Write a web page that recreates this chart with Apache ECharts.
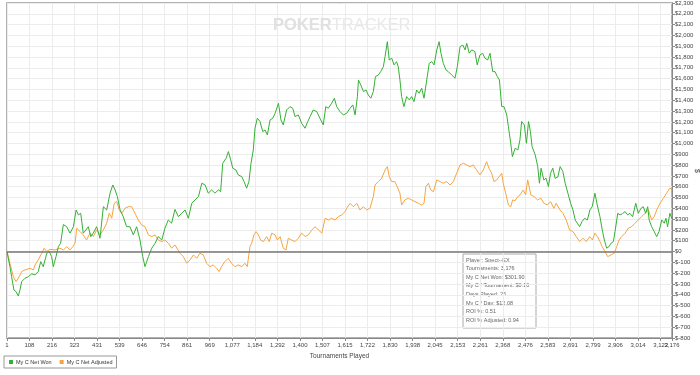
<!DOCTYPE html>
<html><head><meta charset="utf-8">
<script src="https://cdn.jsdelivr.net/npm/echarts@6/dist/echarts.min.js"></script>
<style>html,body{margin:0;padding:0;background:#fff}#c{width:700px;height:375px}</style>
</head><body><div id="c"></div>
<script>
const xTicks = [1,108,216,323,431,539,646,754,861,969,1077,1184,1292,1400,1507,1615,1722,1830,1938,2045,2153,2261,2368,2476,2583,2691,2799,2906,3014,3122,3176];

const wonT = [1,15,23,34,44,55,63,71,87,103,119,135,150,162,174,191,203,214,222,235,246,257,270,286,302,318,331,342,353,365,378,389,401,413,429,445,461,477,493,506,517,528,541,556,572,588,604,620,636,649,660,668,676,692,708,723,740,755,771,787,803,819,835,851,867,883,899,915,931,947,962,978,994,1010,1021,1031,1047,1058,1069,1079,1094,1105,1122,1133,1145,1156,1166,1177,1185,1196,1209,1222,1233,1244,1257,1270,1281,1297,1309,1320,1336,1352,1365,1376,1392,1408,1424,1437,1448,1463,1480,1495,1511,1523,1535,1551,1564,1575,1591,1607,1623,1639,1652,1663,1674,1679,1690,1703,1715,1726,1738,1750,1760,1774,1785,1798,1806,1817,1826,1838,1849,1861,1869,1877,1885,1896,1909,1922,1933,1944,1957,1969,1981,1992,2005,2017,2029,2040,2053,2064,2073,2084,2097,2108,2124,2140,2151,2164,2177,2188,2196,2208,2220,2235,2246,2259,2272,2283,2296,2307,2320,2331,2342,2352,2363,2374,2387,2395,2406,2414,2427,2440,2450,2458,2471,2481,2491,2500,2508,2523,2535,2543,2551,2564,2575,2586,2596,2607,2618,2631,2642,2655,2666,2679,2692,2703,2714,2724,2735,2746,2759,2772,2784,2795,2808,2819,2832,2843,2853,2864,2875,2885,2896,2904,2917,2928,2939,2952,2964,2975,2988,3003,3015,3028,3039,3050,3060,3067,3079,3091,3103,3114,3127,3139,3147,3155,3166,3171,3176];
const wonV = [0,-140,-232,-355,-371,-411,-355,-278,-247,-232,-207,-216,-186,-93,-140,-16,0,-47,-140,-47,45,77,250,230,170,230,385,339,354,170,200,230,138,170,230,123,415,385,540,616,570,508,385,323,230,230,154,230,107,-47,-140,-155,-47,31,77,138,107,216,292,262,390,323,354,385,308,447,478,508,632,616,540,570,540,570,555,817,863,925,848,771,755,709,693,647,586,647,817,940,1141,1234,1203,1110,1125,1079,1218,1234,1280,1372,1218,1172,1310,1341,1326,1249,1264,1187,1141,1203,1249,1310,1295,1234,1172,1341,1326,1372,1419,1341,1295,1264,1280,1326,1357,1264,1434,1588,1542,1480,1495,1449,1419,1480,1619,1634,1665,1711,1804,1942,1773,1789,1727,1757,1711,1588,1434,1341,1434,1403,1434,1387,1495,1465,1511,1419,1588,1742,1757,1727,1866,1942,1835,1742,1680,1665,1634,1604,1711,1896,1911,1866,1927,1835,1866,1850,1727,1819,1835,1789,1773,1835,1665,1665,1619,1588,1341,1341,1264,1156,1002,878,956,940,1033,1203,1172,1002,1203,1110,971,894,786,632,771,663,678,601,725,771,678,690,786,740,632,540,447,385,292,262,230,277,308,292,385,415,540,431,323,200,107,31,45,77,92,185,354,339,350,370,339,354,323,447,354,400,415,354,415,292,230,185,138,185,292,262,308,230,354,370,302];

const adjT = [1,15,31,44,55,71,87,111,127,135,150,167,178,191,206,230,254,270,286,302,315,326,334,350,365,381,397,413,429,445,461,477,489,501,513,525,537,549,564,580,596,612,628,644,660,676,692,708,723,740,755,771,787,803,827,843,859,875,891,907,922,938,954,970,986,1002,1014,1025,1041,1057,1073,1089,1105,1122,1137,1148,1161,1169,1180,1190,1201,1212,1225,1241,1253,1265,1281,1292,1305,1320,1333,1344,1360,1376,1392,1408,1424,1440,1456,1472,1488,1504,1520,1536,1551,1567,1583,1599,1615,1623,1639,1655,1671,1686,1702,1718,1734,1750,1758,1774,1790,1806,1817,1826,1838,1853,1864,1877,1885,1901,1917,1933,1949,1965,1981,1992,2001,2013,2024,2037,2053,2069,2084,2100,2116,2132,2148,2164,2180,2196,2211,2227,2243,2259,2275,2291,2302,2315,2326,2339,2351,2363,2370,2382,2395,2406,2415,2427,2436,2450,2466,2477,2487,2494,2502,2518,2534,2550,2564,2581,2596,2612,2623,2641,2655,2671,2687,2703,2719,2735,2751,2767,2783,2796,2808,2820,2832,2843,2856,2869,2885,2900,2912,2923,2936,2952,2967,2983,2999,3015,3031,3047,3063,3079,3091,3103,3119,3135,3150,3166,3176];
const adjV = [0,-108,-232,-278,-247,-186,-170,-155,-170,-124,-78,-16,31,0,21,15,31,15,45,15,45,77,216,185,154,107,170,138,200,154,200,262,354,308,447,462,385,354,400,415,415,354,292,246,230,154,138,154,107,92,107,77,31,61,-16,-47,-108,-78,-31,-62,-16,-31,-108,-140,-124,-155,-186,-140,-93,-62,-108,-140,-124,-140,-108,-140,45,77,154,185,154,107,92,138,92,170,154,107,138,31,15,123,107,92,123,170,140,154,200,230,200,170,308,292,308,292,323,339,370,400,447,415,447,385,415,385,400,508,616,647,678,755,786,693,647,647,601,540,431,478,493,478,462,447,431,447,601,632,570,555,663,647,632,647,616,647,725,801,817,801,786,801,755,709,755,832,771,725,647,663,693,725,632,540,431,415,478,470,500,524,570,524,663,650,524,508,478,493,447,431,462,400,447,385,354,292,200,185,138,92,123,92,138,107,170,138,92,45,0,-47,-31,-16,45,107,138,170,216,230,262,292,323,354,385,292,323,385,447,493,540,586,575];

const seriesNames = ['My C Net Won', 'My C Net Adjusted'];
const infoLines = ['Player: Spect--EX','Tournaments: 3,176','My C Net Won: $301.90','My C / Tournament: $0.10','Days Played: 25','My C / Day: $12.08','ROI %: 0.51','ROI % Adjusted: 0.94'];

const F = '"Liberation Sans", Arial, sans-serif';
const zip = (a, b) => a.map((t, i) => [t, b[i]]);
const lastTick = xTicks[xTicks.length - 1];
const mainLabelTicks = xTicks.slice(0, -1);
const fmtX = v => Math.round(v).toLocaleString('en-US');

const chart = echarts.init(document.getElementById('c'), null, {renderer: 'canvas'});
const infoGraphics = [{type:'rect', shape:{x:0,y:0,width:73,height:74}, style:{fill:'#fff', stroke:'#aaa', lineWidth:1}}]
  .concat(infoLines.map((s, i) => ({type:'text', x:3, y:3 + i*8.6, style:{text:s, fontSize:5.5, fill:'#666', fontFamily:F}})));

const xLabelStyle = {fontSize:6, color:'#444', margin:4, fontFamily:F, formatter:fmtX};

chart.setOption({
  animation: false,
  grid: {left:7, right:28, top:3, bottom:37, show:true, borderColor:'#999', borderWidth:1.5, backgroundColor:'transparent'},
  xAxis: [{
    type:'value', min:1, max:3176,
    name:'Tournaments Played', nameLocation:'middle', nameGap:10,
    nameTextStyle:{fontSize:6.5, color:'#444', fontFamily:F},
    axisLine:{onZero:false, lineStyle:{color:'#888'}},
    axisTick:{customValues:xTicks, length:3, lineStyle:{color:'#888'}},
    axisLabel:Object.assign({customValues:mainLabelTicks}, xLabelStyle),
    splitLine:{show:true, lineStyle:{color:'#ececec'}}
  }, {
    type:'value', min:1, max:3176, position:'bottom',
    axisLine:{show:false, onZero:false}, axisTick:{show:false}, splitLine:{show:false},
    axisLabel:Object.assign({customValues:[lastTick]}, xLabelStyle)
  }],
  yAxis: {
    type:'value', position:'right', min:-800, max:2300, interval:100,
    axisLine:{show:true, lineStyle:{color:'#888'}},
    axisTick:{show:true, length:3, lineStyle:{color:'#888'}},
    axisLabel:{fontSize:6, color:'#444', margin:3, fontFamily:F, formatter:v => '$' + v.toLocaleString('en-US')},
    splitLine:{show:true, lineStyle:{color:'#ececec'}}
  },
  legend: {
    left:4, top:356, padding:[3,4,3,5], itemGap:8, itemWidth:4, itemHeight:4, icon:'rect',
    borderColor:'#999', borderWidth:1, data:seriesNames,
    textStyle:{fontSize:5.5, color:'#333', fontFamily:F, padding:[0,0,0,-2]}
  },
  graphic: [
    {type:'text', x:273, y:17, z:1, style:{text:'{a|POKER}{b|TRACKER}', fill:'#e6e6e6',
      rich:{a:{fontSize:16.5, fontWeight:'bold', fill:'#e0e0e0', fontFamily:F}, b:{fontSize:16.5, fontWeight:'normal', fill:'#e8e8e8', fontFamily:F}}}},
    {type:'text', x:697, y:171, rotation:-Math.PI/2, z:5, style:{text:'$', fontSize:7, fill:'#444', fontFamily:F, align:'center', verticalAlign:'middle'}},
    {type:'group', x:463, y:254, z:20, children: infoGraphics}
  ],
  series: [
    {name:seriesNames[1], type:'line', data:zip(adjT, adjV), symbol:'none', z:3,
      lineStyle:{color:'#f7a440', width:1}, itemStyle:{color:'#f7a440', borderColor:'#c07010'},
      markLine:{silent:true, symbol:'none', label:{show:false}, lineStyle:{color:'#777', width:1.5, type:'solid'}, data:[{yAxis:0}]}},
    {name:seriesNames[0], type:'line', data:zip(wonT, wonV), symbol:'none', z:4,
      lineStyle:{color:'#34b034', width:1}, itemStyle:{color:'#34b034', borderColor:'#106010'}}
  ]
});
</script></body></html>
